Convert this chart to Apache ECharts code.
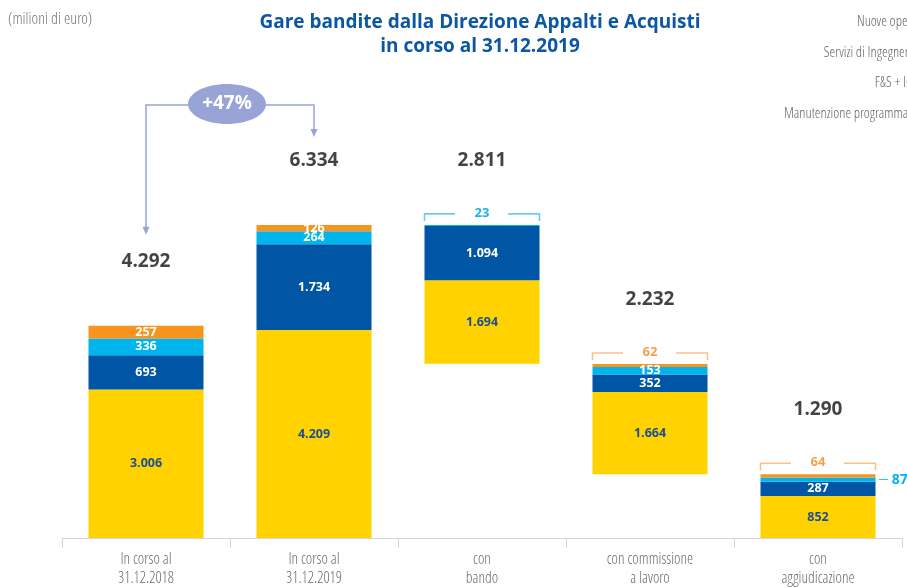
<!DOCTYPE html>
<html>
<head>
<meta charset="utf-8">
<script src="https://cdn.jsdelivr.net/npm/echarts@6/dist/echarts.min.js"></script>
<style>
html,body{margin:0;padding:0;background:#fff;}
#c{width:907px;height:588px;}
</style>
</head>
<body>
<div id="c"></div>
<script>
// ---- data ----
const categories = ['In corso al\n31.12.2018', 'In corso al\n31.12.2019', 'con\nbando', 'con commissione\na lavoro', 'con\naggiudicazione'];
const seriesNames = ['Nuove opere', 'Servizi di Ingegneria', 'F&S + ICT', 'Manutenzione programmata'];
const baseOffsets = [0, 0, 3523, 1290, 0];
const yellowValues = [3006, 4209, 1694, 1664, 852];
const darkBlueValues = [693, 1734, 1094, 352, 287];
const cyanValues = [336, 264, 23, 153, 87];
const orangeValues = [257, 126, 0, 62, 64];
const totals = [4292, 6334, 2811, 2232, 1290];
const bracketValues = [null, null, 23, 62, 64];
const bracketSeries = [null, null, 'cyan', 'orange', 'orange'];
const sideLabelCyan = [false, false, false, false, true];
const growthLabel = '+47%';

// ---- styles ----
const COL = {yellow: '#FFD200', dark: '#0055A4', cyan: '#00B4EE', orange: '#F7941E'};
const BRACKET_LINE = {cyan: '#6FCBF1', orange: '#F8C28C'};
const BRACKET_TEXT = {cyan: '#1BB3EA', orange: '#F5A04C'};
const NARROW = '"Open Sans Condensed Light", "Open Sans", sans-serif';
const NARROW_W = '300 condensed';
const BOLD = '"Open Sans", "Noto Sans", sans-serif';

function fmt(n) { return String(n).replace(/\B(?=(\d{3})+(?!\d))/g, '.'); }

function segData(values, key) {
  return values.map((v, i) => {
    const item = {value: v};
    if (v === 0 || bracketSeries[i] === key) {
      item.label = {show: false};
    }
    if (key === 'cyan' && sideLabelCyan[i]) {
      item.label = {
        show: true, position: 'right', distance: 3,
        formatter: '{d|—} {v|' + fmt(v) + '}',
        rich: {
          d: {color: COL.cyan, fontSize: 10, fontFamily: BOLD, fontWeight: 'normal'},
          v: {color: COL.cyan, fontSize: 14, fontFamily: BOLD, fontWeight: 'bold'}
        }
      };
    }
    return item;
  });
}

function segSeries(name, values, key, textColor) {
  return {
    name: name, type: 'bar', stack: 'total', barWidth: 115,
    itemStyle: {color: COL[key]},
    label: {
      show: true, position: 'inside', color: textColor,
      fontFamily: BOLD, fontWeight: 'bold', fontSize: 12.5,
      formatter: p => fmt(p.value)
    },
    data: segData(values, key),
    z: 3
  };
}

const stackTops = baseOffsets.map((b, i) => b + yellowValues[i] + darkBlueValues[i] + cyanValues[i] + orangeValues[i]);
const labelTops = baseOffsets.map((b, i) => b + totals[i]);

const bracketData = [];
bracketValues.forEach((v, i) => { if (v !== null) bracketData.push([i, stackTops[i], v, bracketSeries[i]]); });

const chart = echarts.init(document.getElementById('c'));
const option = {
  animation: false,
  title: [
    {
      text: 'Gare bandite dalla Direzione Appalti e Acquisti\nin corso al 31.12.2019',
      left: 475, top: 6, textAlign: 'center',
      textStyle: {color: '#0B57A6', fontFamily: BOLD, fontWeight: 'bold', fontSize: 19, lineHeight: 24}
    },
    {
      text: '(milioni di euro)', left: 3, top: 7,
      textStyle: {color: '#777', fontFamily: NARROW, fontWeight: NARROW_W, fontSize: 16}
    }
  ],
  legend: {
    orient: 'vertical', right: -34, top: 10, align: 'right',
    itemWidth: 14, itemHeight: 14, itemGap: 15.5,
    data: seriesNames,
    textStyle: {color: '#666', fontFamily: NARROW, fontWeight: NARROW_W, fontSize: 14.5}
  },
  grid: {left: 62, right: 5, top: 192, bottom: 44},
  xAxis: {
    type: 'category', data: categories,
    axisLine: {lineStyle: {color: '#d4d4d4', width: 1}},
    axisTick: {show: true, length: 10, lineStyle: {color: '#d4d4d4'}},
    axisLabel: {color: '#6b6b6b', fontFamily: NARROW, fontWeight: NARROW_W, fontSize: 15.5, lineHeight: 19, margin: 12}
  },
  yAxis: {type: 'value', min: 0, max: 7000, show: false, splitLine: {show: false}},
  series: [
    {
      name: 'base', type: 'bar', stack: 'total', barWidth: 115, silent: true,
      itemStyle: {color: 'rgba(0,0,0,0)'}, data: baseOffsets, z: 1
    },
    segSeries(seriesNames[0], yellowValues, 'yellow', '#1B4F93'),
    segSeries(seriesNames[1], darkBlueValues, 'dark', '#ffffff'),
    segSeries(seriesNames[2], cyanValues, 'cyan', '#ffffff'),
    segSeries(seriesNames[3], orangeValues, 'orange', '#ffffff'),
    {
      name: 'totali', type: 'scatter', symbolSize: 0, silent: true,
      data: labelTops.map((t, i) => [i, t]),
      label: {
        show: true, position: 'top', distance: 55,
        color: '#141414', fontFamily: BOLD, fontWeight: 'bold', fontSize: 19,
        formatter: p => fmt(totals[p.dataIndex])
      },
      z: 5
    },
    {
      name: 'parentesi', type: 'custom', silent: true,
      data: bracketData,
      renderItem: function (params, api) {
        const i = api.value(0);
        const p = api.coord([i, api.value(1)]);
        const key = bracketData[params.dataIndex][3];
        const half = 57.5;
        const y = p[1] - 11;
        const x0 = p[0] - half, x1 = p[0] + half;
        const stroke = {stroke: BRACKET_LINE[key], lineWidth: 1.6, fill: null};
        return {
          type: 'group',
          children: [
            {type: 'polyline', shape: {points: [[x0, y + 7], [x0, y], [p[0] - 27, y]]}, style: stroke},
            {type: 'polyline', shape: {points: [[p[0] + 26, y], [x1, y], [x1, y + 7]]}, style: stroke},
            {type: 'text', x: p[0], y: y - 1, style: {
              text: fmt(api.value(2)), fill: BRACKET_TEXT[key], align: 'center', verticalAlign: 'middle',
              font: 'bold 13px ' + BOLD
            }}
          ]
        };
      },
      z: 6
    }
  ]
};
chart.setOption(option);

// growth annotation between the first two totals
const xA = chart.convertToPixel({xAxisIndex: 0}, 0);
const xB = chart.convertToPixel({xAxisIndex: 0}, 1);
const labelY = i => chart.convertToPixel({yAxisIndex: 0}, labelTops[i]) - 66;
const yH = labelY(1) - 54;
const tipA = labelY(0) - 25;
const tipB = labelY(1) - 22;
const cx = (xA + xB) / 2 - 3;
const LAV = '#98A4D6';
function arrowHead(x, y) {
  return {type: 'polygon', shape: {points: [[x - 3.5, y - 8], [x + 3.5, y - 8], [x, y]]}, style: {fill: LAV}, z: 10};
}
chart.setOption({
  graphic: [
    {type: 'polyline', shape: {points: [[cx, yH], [xA, yH], [xA, tipA - 6]]}, style: {stroke: LAV, lineWidth: 1.5, fill: null}, z: 9},
    {type: 'polyline', shape: {points: [[cx, yH], [xB, yH], [xB, tipB - 6]]}, style: {stroke: LAV, lineWidth: 1.5, fill: null}, z: 9},
    arrowHead(xA, tipA),
    arrowHead(xB, tipB),
    {type: 'ellipse', shape: {cx: cx, cy: yH - 1, rx: 39, ry: 20}, style: {fill: LAV}, z: 11},
    {type: 'text', x: cx, y: yH - 1, style: {text: growthLabel, fill: '#fff', align: 'center', verticalAlign: 'middle', font: 'bold 19px ' + BOLD}, z: 12}
  ]
});
</script>
</body>
</html>
